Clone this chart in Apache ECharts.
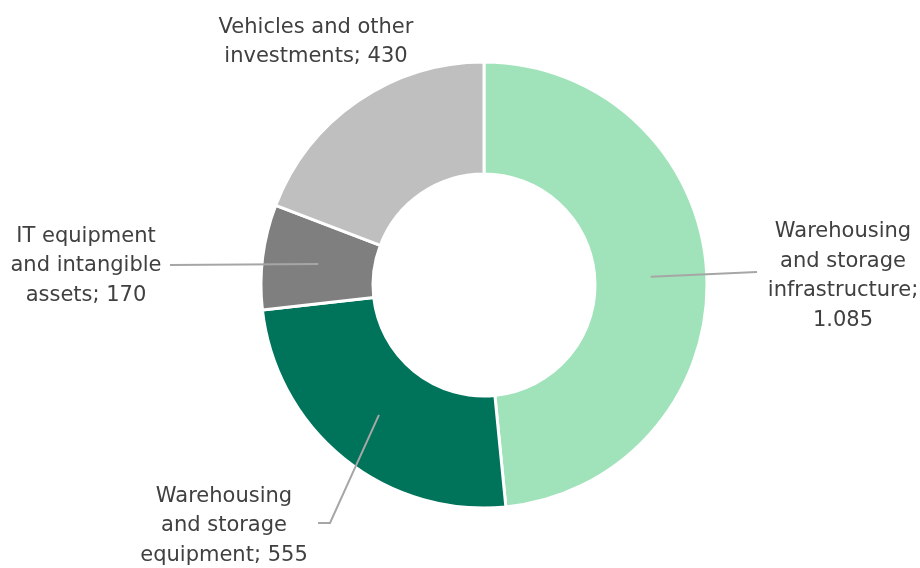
<!DOCTYPE html>
<html><head><meta charset="utf-8">
<script src="https://cdn.jsdelivr.net/npm/echarts@6/dist/echarts.min.js"></script>
<style>html,body{margin:0;padding:0;background:#fff}#c{width:920px;height:568px}</style>
</head><body><div id="c"></div>
<script>
// ---- data ----
const categories = [
  'Warehousing and storage infrastructure',
  'Warehousing and storage equipment',
  'IT equipment and intangible assets',
  'Vehicles and other investments'
];
const labelNames = [
  'Warehousing\nand storage\ninfrastructure',
  'Warehousing\nand storage\nequipment',
  'IT equipment\nand intangible\nassets',
  'Vehicles and other\ninvestments'
];
const labelSeparators = [';\n', '; ', '; ', '; '];
const values = [1085, 555, 170, 430];
const colors = ['#a0e2b9', '#00745a', '#7f7f7f', '#bfbfbf'];

// ---- layout (positions of label blocks and guide line ends) ----
const labelLayoutPos = [
  { x: 843, y: 276, line: [[757, 272]] },
  { x: 224, y: 526, line: [[330, 523], [318, 523]] },
  { x: 86,  y: 266, line: [[170, 265]] },
  { x: 316, y: 42,  line: null }
];

function fmt(v) {
  return String(v).replace(/\B(?=(\d{3})+(?!\d))/g, '.');
}

const chart = echarts.init(document.getElementById('c'), null, { renderer: 'canvas' });

const donutData = categories.map((c, i) => ({
  name: c, value: values[i], itemStyle: { color: colors[i] }
}));
const labelData = categories.map((c, i) => ({
  name: c, value: values[i],
  labelLine: { show: labelLayoutPos[i].line != null }
}));

chart.setOption({
  animation: false,
  backgroundColor: '#ffffff',
  series: [
    {
      type: 'pie',
      z: 2,
      center: [484, 285],
      radius: [111, 223],
      startAngle: 90,
      clockwise: true,
      silent: true,
      label: { show: false },
      labelLine: { show: false },
      itemStyle: { borderColor: '#ffffff', borderWidth: 3 },
      emphasis: { disabled: true },
      data: donutData
    },
    {
      type: 'pie',
      z: 10,
      center: [484, 285],
      radius: [0, 167],
      startAngle: 90,
      clockwise: true,
      silent: true,
      avoidLabelOverlap: false,
      minShowLabelAngle: 0,
      itemStyle: { color: 'rgba(0,0,0,0)', borderWidth: 0 },
      emphasis: { disabled: true },
      label: {
        show: true,
        position: 'outside',
        fontFamily: 'DejaVu Sans',
        fontSize: 21,
        lineHeight: 29.5,
        color: '#404040',
        formatter: p => labelNames[p.dataIndex] + labelSeparators[p.dataIndex] + fmt(p.value)
      },
      labelLine: {
        show: true,
        length: 10,
        length2: 10,
        lineStyle: { color: '#a6a6a6', width: 2 }
      },
      labelLayout: function (params) {
        const p = labelLayoutPos[params.dataIndex];
        const out = { x: p.x, y: p.y, align: 'center', verticalAlign: 'middle' };
        if (p.line && params.labelLinePoints) {
          out.labelLinePoints = [params.labelLinePoints[0]].concat(p.line);
        }
        return out;
      },
      data: labelData
    }
  ]
});
</script>
</body></html>
